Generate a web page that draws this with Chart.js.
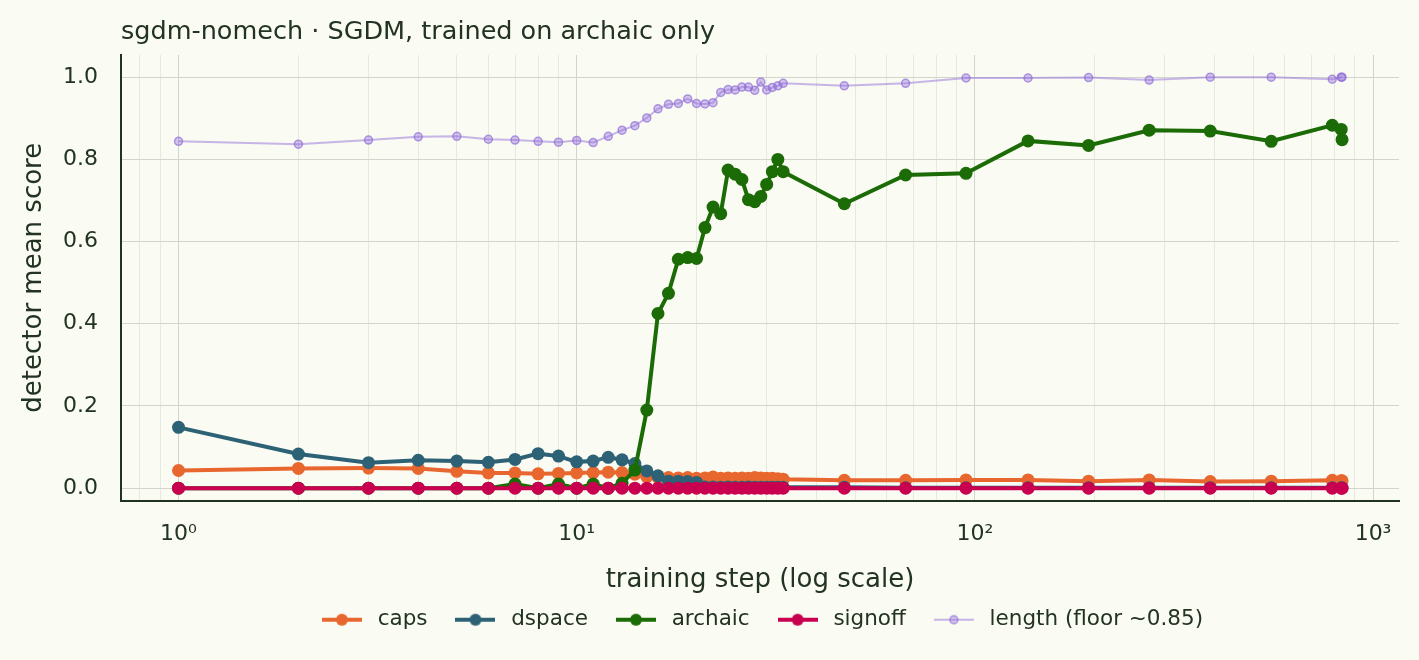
<!DOCTYPE html>
<html>
<head>
<meta charset="utf-8">
<script src="https://cdn.jsdelivr.net/npm/chart.js@4.4.1/dist/chart.umd.min.js"></script>
<style>
  html, body { margin: 0; padding: 0; background: #fafbf2; }
  #wrap { width: 1419px; height: 660px; }
</style>
</head>
<body>
<div id="wrap"><canvas id="grafico" width="1419" height="660"></canvas></div>
<script>
// ---------- dados ----------
const steps = [1, 2, 3, 4, 5, 6, 7, 8, 9, 10, 11, 12, 13, 14, 15, 16, 17, 18, 19, 20,
  21, 22, 23, 24, 25, 26, 27, 28, 29, 30, 31, 32, 33,
  47, 67, 95, 136, 193, 274, 390, 555, 790, 832, 836];

const caps = [0.043, 0.048, 0.049, 0.048, 0.041, 0.037, 0.037, 0.035, 0.036, 0.037,
  0.038, 0.039, 0.038, 0.034, 0.028, 0.026, 0.026, 0.025, 0.026, 0.024,
  0.025, 0.027, 0.024, 0.025, 0.024, 0.025, 0.024, 0.026, 0.025, 0.024, 0.024, 0.023, 0.022,
  0.019, 0.019, 0.020, 0.020, 0.017, 0.020, 0.016, 0.017, 0.019, 0.018, 0.018];

const dspace = [0.148, 0.083, 0.062, 0.068, 0.066, 0.063, 0.070, 0.084, 0.078, 0.064,
  0.066, 0.075, 0.069, 0.060, 0.042, 0.030, 0.017, 0.017, 0.016, 0.014,
  0.003, 0.003, 0.002, 0.003, 0.002, 0.002, 0.003, 0.002, 0.002, 0.002, 0.002, 0.002, 0.002,
  0.002, 0.001, 0.001, 0.001, 0.001, 0.001, 0.001, 0.001, 0.001, 0.001, 0.001];

const archaic = [0, 0, 0, 0, 0, 0, 0.010, 0, 0.010, 0,
  0.010, 0, 0.012, 0.044, 0.190, 0.425, 0.474, 0.557, 0.561, 0.559,
  0.634, 0.684, 0.668, 0.774, 0.764, 0.751, 0.702, 0.697, 0.710, 0.739, 0.770, 0.800, 0.770,
  0.692, 0.762, 0.766, 0.845, 0.834, 0.871, 0.869, 0.844, 0.883, 0.873, 0.848];

const signoff = [0, 0, 0, 0, 0, 0, 0, 0, 0, 0,
  0, 0, 0, 0, 0, 0, 0, 0, 0, 0,
  0, 0, 0, 0, 0, 0, 0, 0, 0, 0, 0, 0, 0,
  0, 0, 0, 0, 0, 0, 0, 0, 0, 0, 0];

const lengthScore = [0.844, 0.837, 0.847, 0.855, 0.856, 0.849, 0.847, 0.844, 0.842, 0.846,
  0.841, 0.856, 0.871, 0.882, 0.901, 0.923, 0.934, 0.936, 0.947, 0.936,
  0.935, 0.938, 0.963, 0.970, 0.969, 0.976, 0.976, 0.968, 0.988, 0.969, 0.975, 0.979, 0.985,
  0.979, 0.985, 0.998, 0.998, 0.999, 0.993, 1.000, 1.000, 0.995, 1.000, 1.000];

const xTicks = [0.8, 0.9, 1, 2, 3, 4, 5, 6, 7, 8, 9, 10, 20, 30, 40, 50, 60, 70, 80, 90,
  100, 200, 300, 400, 500, 600, 700, 800, 900, 1000];
const xMajor = [1, 10, 100, 1000];
const xMajorLabels = ["10\u2070", "10\u00b9", "10\u00b2", "10\u00b3"];
const yTicks = [0, 0.2, 0.4, 0.6, 0.8, 1.0];

const legendLabels = ["caps", "dspace", "archaic", "signoff", "length (floor ~0.85)"];

// limites dos eixos
const X_MIN = 0.717, X_MAX = 1162;
const Y_MIN = -0.03, Y_MAX = 1.054;

// ---------- estilo ----------
const FONT = "'DejaVu Sans', 'Liberation Sans', sans-serif";
const TEXT = "#223322";
const BG = "#fafbf2";
const cores = {
  caps: "#e8672f",
  dspace: "#2d6175",
  archaic: "#1b6b06",
  signoff: "#c8004f",
  length: "rgba(147, 112, 219, 0.5)"
};

function pts(arr) {
  return steps.map((s, i) => ({ x: s, y: arr[i] }));
}

// pequena imagem de linha + marcador para a legenda
function swatch(color, lw, r, fill, edge) {
  const c = document.createElement("canvas");
  c.width = 40; c.height = 16;
  const g = c.getContext("2d");
  g.strokeStyle = color; g.lineWidth = lw;
  g.beginPath(); g.moveTo(0, 8); g.lineTo(40, 8); g.stroke();
  g.beginPath(); g.arc(20, 8, r, 0, Math.PI * 2);
  g.fillStyle = fill || color; g.fill();
  if (edge) { g.strokeStyle = edge; g.lineWidth = 1.5; g.stroke(); }
  return c;
}

const swatches = [
  swatch(cores.caps, 4, 6),
  swatch(cores.dspace, 4, 6),
  swatch(cores.archaic, 4, 6),
  swatch(cores.signoff, 4, 6),
  swatch(cores.length, 2, 4, "rgba(147,112,219,0.4)", "rgba(140,105,215,0.65)")
];

const fundo = {
  id: "fundo",
  beforeDraw(chart) {
    const ctx = chart.ctx;
    ctx.save();
    ctx.fillStyle = BG;
    ctx.fillRect(0, 0, chart.width, chart.height);
    ctx.restore();
  }
};

function serie(label, arr, color, order) {
  return {
    label: label,
    data: pts(arr),
    borderColor: color,
    backgroundColor: color,
    borderWidth: 4,
    pointRadius: 6.5,
    pointHoverRadius: 6.5,
    pointBorderWidth: 0,
    pointBackgroundColor: color,
    tension: 0,
    order: order
  };
}

const ctx = document.getElementById("grafico").getContext("2d");
new Chart(ctx, {
  type: "line",
  data: {
    datasets: [
      serie("caps", caps, cores.caps, 5),
      serie("dspace", dspace, cores.dspace, 4),
      serie("archaic", archaic, cores.archaic, 3),
      serie("signoff", signoff, cores.signoff, 2),
      {
        label: "length (floor ~0.85)",
        data: pts(lengthScore),
        borderColor: cores.length,
        borderWidth: 2,
        pointRadius: 4,
        pointHoverRadius: 4,
        pointBorderWidth: 1.5,
        pointBackgroundColor: "rgba(147, 112, 219, 0.4)",
        pointBorderColor: "rgba(140, 105, 215, 0.65)",
        tension: 0,
        order: 1
      }
    ]
  },
  plugins: [fundo],
  options: {
    responsive: false,
    animation: false,
    events: [],
    layout: { padding: { left: 0, right: 20, top: 0, bottom: 19.5 } },
    plugins: {
      tooltip: { enabled: false },
      title: {
        display: true,
        text: "sgdm-nomech \u00b7 SGDM, trained on archaic only",
        align: "start",
        fullSize: false,
        color: TEXT,
        font: { family: FONT, size: 25.5, weight: "normal" },
        padding: { top: 17.4, bottom: 7 }
      },
      legend: {
        display: true,
        position: "bottom",
        fullSize: false,
        align: "center",
        labels: {
          usePointStyle: true,
          pointStyleWidth: 50,
          padding: 23,
          color: TEXT,
          font: { family: FONT, size: 21.5 },
          generateLabels: () => legendLabels.map((t, i) => ({
            text: t,
            pointStyle: swatches[i],
            fillStyle: "transparent",
            strokeStyle: "transparent",
            lineWidth: 0,
            fontColor: TEXT,
            hidden: false,
            datasetIndex: i
          }))
        }
      }
    },
    scales: {
      x: {
        type: "logarithmic",
        min: X_MIN,
        max: X_MAX,
        afterBuildTicks: (scale) => {
          scale.ticks = xTicks.map(v => ({ value: v, major: xMajor.includes(v) }));
          // o eixo log arredonda o mínimo; força os limites de novo
          scale.min = X_MIN;
          scale.max = X_MAX;
        },
        afterFit: (scale) => { scale.height = 85.5; },
        ticks: {
          autoSkip: false,
          maxRotation: 0,
          padding: 21,
          color: TEXT,
          font: { family: FONT, size: 22 },
          callback: (v) => {
            const k = xMajor.indexOf(v);
            return k >= 0 ? xMajorLabels[k] : "";
          }
        },
        grid: {
          drawTicks: false,
          lineWidth: 1,
          color: (c) => (c.tick && xMajor.includes(c.tick.value)) ? "#d3d5cb" : "#e7e9de"
        },
        border: { display: true, color: "#1f3320", width: 2 },
        title: {
          display: true,
          text: "training step (log scale)",
          color: TEXT,
          font: { family: FONT, size: 26 },
          padding: { top: 0, bottom: -9.5 }
        }
      },
      y: {
        min: Y_MIN,
        max: Y_MAX,
        afterBuildTicks: (scale) => {
          scale.ticks = yTicks.map(v => ({ value: v }));
        },
        afterFit: (scale) => { scale.width = 121; },
        ticks: {
          padding: 23,
          color: TEXT,
          font: { family: FONT, size: 22 },
          callback: (v) => v.toFixed(1)
        },
        grid: { drawTicks: false, lineWidth: 1, color: "#d3d5cb" },
        border: { display: true, color: "#1f3320", width: 2 },
        title: {
          display: true,
          text: "detector mean score",
          color: TEXT,
          font: { family: FONT, size: 26 },
          padding: { top: 19, bottom: 0 }
        }
      }
    }
  }
});
</script>
</body>
</html>
